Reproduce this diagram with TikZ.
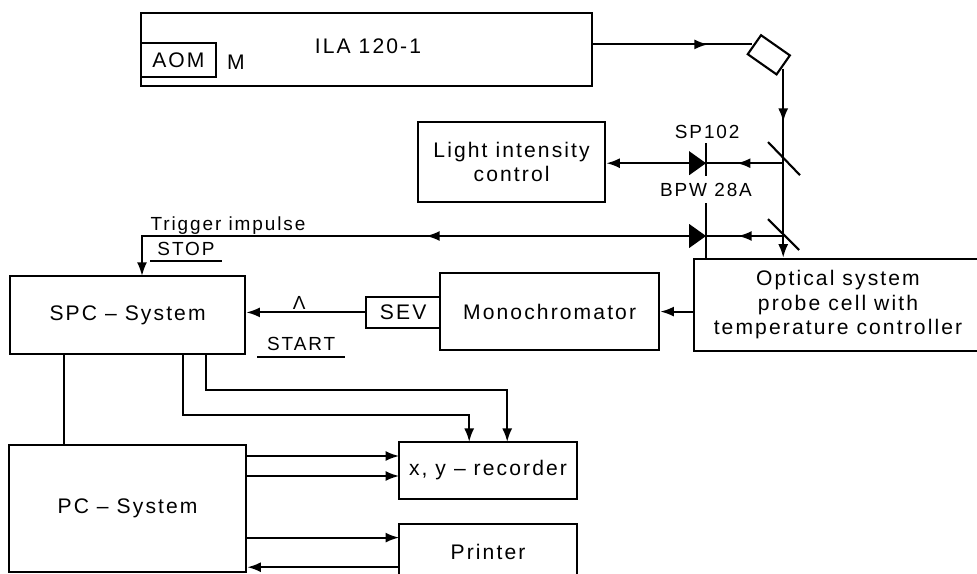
\documentclass[tikz,border=0pt]{standalone}
\usepackage{fontspec}
\setmainfont[LetterSpace=10]{Liberation Sans}
\usepackage{tikz}
\usetikzlibrary{arrows.meta,calc}

\begin{document}
\begin{tikzpicture}[
    line width=1.5pt,
    every node/.style={align=center, inner sep=0pt, font=\fontsize{15}{17.5}\selectfont},
    blockbox/.style={draw, line width=1.5pt},
    tag/.style={font=\fontsize{13.5}{15}\selectfont},
    arrowline/.style={-{Latex[length=0.34cm,width=0.25cm]}}
  ]
    \path[use as bounding box, clip] (0,0) rectangle (24.425,-14.35);

    \node[blockbox, minimum width=11.28cm, minimum height=1.83cm] (ila) at (9.16,-1.24) {};
    \node (ilatext) at (9.2,-1.15) {ILA 120-1};
    \node[blockbox, minimum width=1.88cm, minimum height=0.85cm] (aom) at (4.46,-1.50) {AOM};
    \node (mod) at (5.9,-1.55) {M};
    \node[blockbox, rotate=-35, minimum width=0.88cm, minimum height=0.58cm] (turn) at (19.22,-1.37) {};

    \node[blockbox, minimum width=4.68cm, minimum height=2cm] (light) at (12.79,-4.05) {Light intensity\\control};
    \node[blockbox, minimum width=7.2cm, minimum height=2.3cm] (opt) at (20.95,-7.62) {Optical system\\probe cell with\\temperature controller};
    \node[blockbox, minimum width=5.48cm, minimum height=1.93cm] (mono) at (13.74,-7.79) {Monochromator};
    \node[blockbox, minimum width=1.85cm, minimum height=0.78cm] (sev) at (10.08,-7.81) {SEV};
    \node[blockbox, minimum width=5.88cm, minimum height=1.95cm] (spc) at (3.19,-7.88) {SPC -- System};
    \node[blockbox, minimum width=5.93cm, minimum height=3.18cm] (pc) at (3.19,-12.71) {PC -- System};
    \node[blockbox, minimum width=4.45cm, minimum height=1.43cm] (rec) at (12.2,-11.76) {x, y -- recorder};
    \node[blockbox, minimum width=4.45cm, minimum height=1.4cm] (prn) at (12.2,-13.8) {Printer};

    \node[tag] (sp) at (17.68,-3.3) {SP102};
    \node[tag] (bpw) at (17.65,-4.75) {BPW 28A};
    \node[tag] (trig) at (5.7,-5.65) {Trigger impulse};
    \node[tag, inner xsep=0.16cm, inner ysep=0.1cm] (stop) at (4.65,-6.22) {STOP};
    \node[tag, inner xsep=0.22cm, inner ysep=0.12cm] (start) at (7.53,-8.6) {START};
    \node[tag] (lam) at (7.48,-7.58) {Λ};
    \draw (stop.south west) -- (stop.south east);
    \draw (start.south west) -- (start.south east);

    % beam path
    \coordinate (beamtip) at (17.7,-1.11);
    \coordinate (beamend) at (18.8,-1.11);
    \coordinate (beamout) at (19.58,-1.72);
    \coordinate (beamdown) at (19.58,-3.05);
    \draw (ila.east |- beamtip) -- (beamend);
    \draw[arrowline] (ila.east |- beamtip) -- (beamtip);
    \draw[arrowline] (beamout) -- (beamdown);
    \draw[arrowline] (beamout) -- (beamdown |- opt.north);

    % splitters
    \coordinate (m1) at (19.58,-4.08);
    \coordinate (m2) at (19.58,-5.9);
    \draw (19.2,-3.55) -- (20,-4.38);
    \draw (19.2,-5.48) -- (19.98,-6.25);

    % diodes
    \coordinate (d1) at (17.65,-4.08);
    \coordinate (d2) at (17.65,-5.9);
    \fill (d1) -- ++(-0.42,0.3) -- ++(0,-0.6) -- cycle;
    \fill (d2) -- ++(-0.42,0.3) -- ++(0,-0.6) -- cycle;
    \coordinate (bar1) at (17.65,-3.58);
    \coordinate (bar1b) at (17.65,-4.4);
    \coordinate (bar2) at (17.65,-5.08);
    \draw (bar1) -- (bar1b);
    \draw (bar2) -- (bar2 |- opt.north);

    \coordinate (tip1) at (18.42,-4.08);
    \coordinate (tip2) at (18.45,-5.9);
    \draw (m1) -- (d1);
    \draw[arrowline] (m1) -- (tip1);
    \draw (m2) -- (d2);
    \draw[arrowline] (m2) -- (tip2);
    \draw[arrowline] (d1) -- (light.east |- d1);

    % trigger line
    \coordinate (trigmid) at (10.65,-5.9);
    \coordinate (trigdown) at (3.55,-6.9);
    \draw[arrowline] (d2) -- (trigmid);
    \draw[arrowline] (d2) -| (trigdown);

    \draw[arrowline] (opt.west |- mono.east) -- (mono.east);
    \draw[arrowline] (sev.west) -- (spc.east |- sev.west);

    % spc to pc and recorder
    \coordinate (link) at (1.6,-10);
    \coordinate (xout) at (4.58,-10.38);
    \coordinate (yout) at (5.15,-9.75);
    \coordinate (xin) at (11.73,-11.05);
    \coordinate (yin) at (12.68,-11.05);
    \draw (link |- spc.south) -- (link |- pc.north);
    \draw[arrowline] (xout |- spc.south) -- (xout) -| (xin);
    \draw[arrowline] (yout |- spc.south) -- (yout) -| (yin);

    % pc to recorder and printer
    \coordinate (r1) at (9.98,-11.4);
    \coordinate (r2) at (9.98,-11.9);
    \coordinate (p1) at (9.98,-13.44);
    \coordinate (p2) at (9.98,-14.18);
    \draw[arrowline] (pc.east |- r1) -- (r1);
    \draw[arrowline] (pc.east |- r2) -- (r2);
    \draw[arrowline] (pc.east |- p1) -- (p1);
    \draw[arrowline] (p2) -- (pc.east |- p2);
  \end{tikzpicture}
\end{document}
